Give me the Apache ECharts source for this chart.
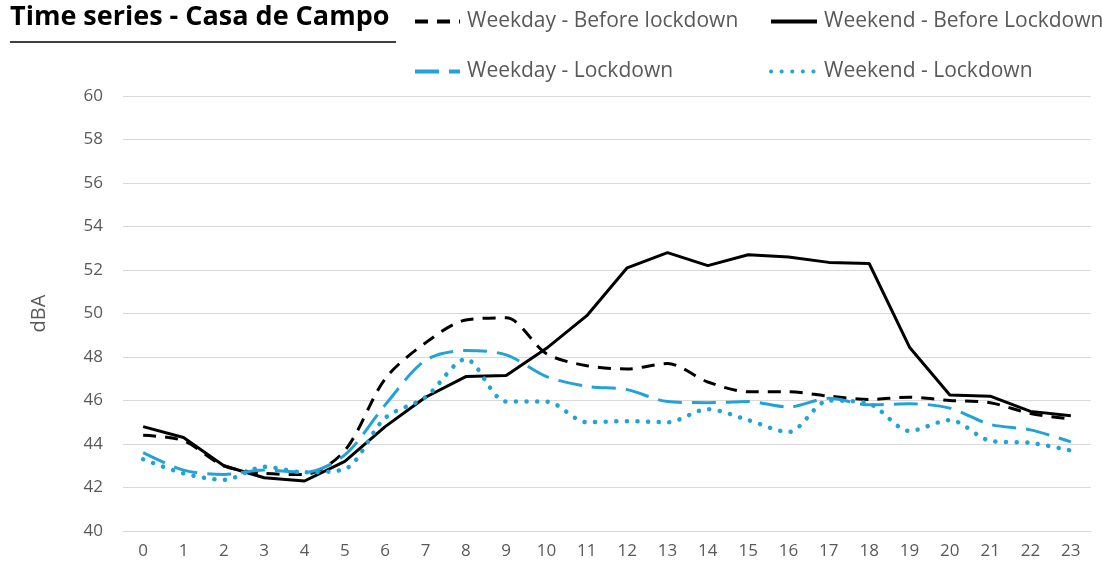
<!DOCTYPE html>
<html>
<head>
<meta charset="utf-8">
<script src="https://cdn.jsdelivr.net/npm/echarts@6/dist/echarts.min.js"></script>
<style>
  html, body { margin: 0; padding: 0; background: #fff; }
  #chart { width: 1102px; height: 567px; }
</style>
</head>
<body>
<div id="chart"></div>
<script>
// hours of the day
const hours = ['0', '1', '2', '3', '4', '5', '6', '7', '8', '9', '10', '11',
  '12', '13', '14', '15', '16', '17', '18', '19', '20', '21', '22', '23']

const weekdayBefore = [44.4, 44.15, 43.0, 42.65, 42.6, 43.7, 47.0, 48.65, 49.7, 49.8, 48.15, 47.6,
  47.45, 47.7, 46.85, 46.4, 46.4, 46.2, 46.05, 46.15, 46.0, 45.9, 45.4, 45.15]
const weekendBefore = [44.8, 44.3, 43.0, 42.45, 42.3, 43.2, 44.8, 46.15, 47.1, 47.15, 48.4, 49.9,
  52.1, 52.8, 52.2, 52.7, 52.6, 52.35, 52.3, 48.45, 46.25, 46.2, 45.5, 45.3]
const weekdayLockdown = [43.6, 42.8, 42.6, 42.8, 42.7, 43.5, 45.8, 47.85, 48.3, 48.1, 47.1, 46.65,
  46.5, 45.95, 45.9, 45.95, 45.7, 46.1, 45.8, 45.85, 45.65, 44.9, 44.65, 44.1]
const weekendLockdown = [43.3, 42.65, 42.35, 42.95, 42.7, 42.85, 45.2, 46.15, 47.9, 45.95, 45.95, 45.0,
  45.05, 45.0, 45.6, 45.1, 44.55, 46.0, 45.85, 44.6, 45.1, 44.15, 44.05, 43.7]

const names = ['Weekday - Before lockdown', 'Weekend - Before Lockdown', 'Weekday - Lockdown', 'Weekend - Lockdown']
const blue = '#22a3d6'
const grey = '#595959'
const font = 'Open Sans'

let chart = echarts.init(document.getElementById('chart'))

function oneLegend (name, left, top, width) {
  return {
    data: [name],
    left: left,
    top: top,
    itemWidth: width,
    itemHeight: 14,
    selectedMode: false,
    padding: 0,
    itemStyle: { opacity: 0 },
    lineStyle: { width: 4 },
    textStyle: { color: grey, fontSize: 21, fontFamily: font, padding: [0, 0, 0, 2] }
  }
}

let option = {
  animation: false,
  graphic: [
    {
      type: 'text',
      left: 10,
      top: 4,
      style: {
        text: 'Time series - Casa de Campo',
        fontSize: 27,
        fontWeight: 'bold',
        fontFamily: font,
        fill: '#000'
      }
    },
    {
      type: 'line',
      shape: { x1: 10, y1: 42, x2: 396, y2: 42 },
      style: { stroke: '#000', lineWidth: 1.5 }
    }
  ],
  legend: [
    oneLegend(names[0], 413, 11, 45),
    oneLegend(names[1], 769, 11, 46),
    oneLegend(names[2], 413, 61, 45),
    oneLegend(names[3], 769, 61, 46)
  ],
  grid: {
    left: 123,
    right: 11,
    top: 96,
    bottom: 36
  },
  xAxis: {
    type: 'category',
    data: hours,
    axisLine: { lineStyle: { color: '#d9d9d9' } },
    axisTick: { show: false },
    axisLabel: { color: grey, fontSize: 17, fontFamily: font, margin: 12 }
  },
  yAxis: {
    type: 'value',
    min: 40,
    max: 60,
    interval: 2,
    name: 'dBA',
    nameLocation: 'middle',
    nameGap: 74,
    nameTextStyle: { color: grey, fontSize: 20, fontFamily: font },
    axisLabel: { color: grey, fontSize: 17, fontFamily: font, margin: 20 },
    splitLine: { lineStyle: { color: '#d9d9d9', width: 1 } }
  },
  series: [
    {
      name: names[0],
      type: 'line',
      data: weekdayBefore,
      symbol: 'none',
      smooth: 0.3,
      lineStyle: { color: '#000', width: 3, type: [13, 9] },
      itemStyle: { color: '#000' }
    },
    {
      name: names[1],
      type: 'line',
      data: weekendBefore,
      symbol: 'none',
      lineStyle: { color: '#000', width: 3 },
      itemStyle: { color: '#000' }
    },
    {
      name: names[2],
      type: 'line',
      data: weekdayLockdown,
      symbol: 'none',
      smooth: 0.3,
      lineStyle: { color: blue, width: 3, type: [24, 10] },
      itemStyle: { color: blue }
    },
    {
      name: names[3],
      type: 'line',
      data: weekendLockdown,
      symbol: 'none',
      smooth: 0.3,
      lineStyle: { color: blue, width: 4.5, type: [0.1, 10.5], cap: 'round' },
      itemStyle: { color: blue }
    }
  ]
}
chart.setOption(option)
</script>
</body>
</html>
